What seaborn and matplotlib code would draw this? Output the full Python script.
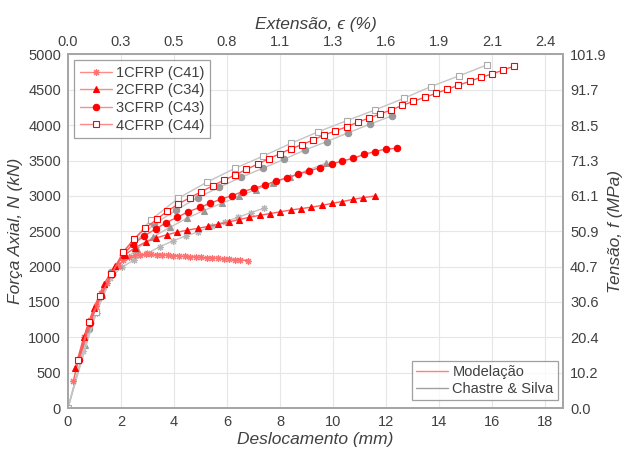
import matplotlib
matplotlib.use('Agg')
import matplotlib.pyplot as plt
import seaborn as sns
from matplotlib.lines import Line2D

# --- Modelação (red) ---
c41_x = [0.20, 0.41, 0.62, 0.83, 1.04, 1.25, 1.46, 1.67, 1.88, 2.09, 2.30, 2.51, 2.72, 2.93,
         3.14, 3.35, 3.56, 3.77, 3.98, 4.19, 4.40, 4.61, 4.82, 5.03, 5.24, 5.45, 5.66, 5.87,
         6.08, 6.29, 6.50, 6.80]
c41_y = [380, 700, 1000, 1240, 1440, 1620, 1770, 1900, 2010, 2090, 2135, 2158, 2168, 2172,
         2172, 2170, 2165, 2160, 2155, 2150, 2145, 2140, 2135, 2130, 2126, 2122, 2117, 2112,
         2106, 2100, 2095, 2085]

c34_x = [0.27, 0.59, 0.98, 1.37, 1.76, 2.15, 2.54, 2.94, 3.33, 3.72, 4.11, 4.50, 4.89, 5.28,
         5.67, 6.06, 6.45, 6.84, 7.23, 7.62, 8.01, 8.40, 8.79, 9.18, 9.57, 9.96, 10.35, 10.74,
         11.13, 11.58]
c34_y = [560, 1000, 1420, 1760, 2010, 2170, 2270, 2350, 2405, 2450, 2485, 2515, 2541, 2568,
         2598, 2630, 2665, 2697, 2725, 2750, 2775, 2800, 2820, 2840, 2865, 2895, 2920, 2950,
         2975, 2999]

c43_x = [0.41, 0.83, 1.24, 1.65, 2.06, 2.47, 2.88, 3.31, 3.70, 4.12, 4.54, 4.98, 5.36, 5.76,
         6.18, 6.59, 7.02, 7.43, 7.85, 8.28, 8.67, 9.09, 9.51, 9.95, 10.35, 10.77, 11.18, 11.58,
         11.99, 12.40]
c43_y = [680, 1200, 1580, 1900, 2170, 2320, 2437, 2532, 2621, 2697, 2777, 2838, 2895, 2952,
         3003, 3060, 3107, 3154, 3211, 3258, 3305, 3352, 3399, 3451, 3494, 3532, 3588, 3627,
         3663, 3673]

c44_x = [0.39, 0.80, 1.22, 1.64, 2.07, 2.49, 2.91, 3.35, 3.75, 4.16, 4.60, 5.03, 5.46, 5.88,
         6.30, 6.73, 7.16, 7.57, 8.00, 8.42, 8.84, 9.25, 9.66, 10.09, 10.52, 10.93, 11.36,
         11.77, 12.19, 12.62, 13.03, 13.46, 13.89, 14.30, 14.73, 15.16, 15.58, 16.00, 16.43,
         16.84]
c44_y = [679, 1221, 1580, 1890, 2200, 2386, 2541, 2669, 2785, 2885, 2975, 3060, 3143, 3222,
         3295, 3375, 3450, 3525, 3597, 3668, 3727, 3791, 3861, 3918, 3979, 4041, 4102, 4158,
         4215, 4281, 4338, 4394, 4451, 4508, 4564, 4621, 4677, 4724, 4781, 4837]

# --- Chastre & Silva (gray) ---
e41_x = [0, 0.58, 1.08, 1.58, 2.03, 2.49, 2.99, 3.47, 3.97, 4.45, 4.92, 5.42, 5.92, 6.43,
         6.89, 7.40]
e41_y = [0, 800, 1350, 1834, 1990, 2093, 2188, 2282, 2366, 2433, 2494, 2574, 2635, 2697,
         2763, 2825]

e34_x = [0, 0.64, 1.27, 1.94, 2.59, 3.22, 3.85, 4.48, 5.13, 5.80, 6.45, 7.09, 7.74, 8.39,
         9.07, 9.72]
e34_y = [0, 891, 1598, 2023, 2245, 2423, 2555, 2683, 2793, 2895, 2994, 3088, 3183, 3272,
         3366, 3461]

e43_x = [0, 0.81, 1.61, 2.44, 3.25, 4.08, 4.89, 5.71, 6.52, 7.35, 8.15, 8.94, 9.77, 10.58,
         11.40, 12.22]
e43_y = [0, 1120, 1928, 2320, 2598, 2800, 2975, 3121, 3262, 3390, 3517, 3649, 3769, 3894,
         4015, 4132]

e44_x = [0, 1.06, 2.09, 3.12, 4.16, 5.23, 6.30, 7.37, 8.42, 9.45, 10.52, 11.58, 12.68,
         13.70, 14.77, 15.80]
e44_y = [0, 1362, 2211, 2659, 2966, 3192, 3390, 3564, 3744, 3908, 4064, 4215, 4381, 4547,
         4700, 4851]

x_ticks = [0, 2, 4, 6, 8, 10, 12, 14, 16, 18]
strain_labels = ['0.0', '0.3', '0.5', '0.8', '1.1', '1.3', '1.6', '1.9', '2.1', '2.4']
y_ticks = [0, 500, 1000, 1500, 2000, 2500, 3000, 3500, 4000, 4500, 5000]
stress_labels = ['0.0', '10.2', '20.4', '30.6', '40.7', '50.9', '61.1', '71.3', '81.5',
                 '91.7', '101.9']

sns.set_style('white')
plt.rcParams['font.family'] = ['Liberation Sans', 'DejaVu Sans']
txt = '#404040'
edge = '#a6a6a6'

fig = plt.figure(figsize=(6.26, 4.5), dpi=100)
ax = fig.add_axes([0.1086, 0.0933, 0.7908, 0.7856])

red = '#ff0000'
red_line = '#ff5a5a'
gray = '#999999'
gray_line = '#c4c4c4'
star = (8, 2, 0)

exp = [(e41_x, e41_y, star, '#b5b5b5', '#b5b5b5', 5),
       (e34_x, e34_y, '^', gray, gray, 4.6),
       (e43_x, e43_y, 'o', gray, gray, 4.6),
       (e44_x, e44_y, 's', 'white', '#aaaaaa', 4.2)]
for xs, ys, mk, fc, ec, ms in exp:
    sns.lineplot(x=xs, y=ys, ax=ax, color=gray_line, linewidth=1, marker=mk,
                 markersize=ms, markerfacecolor=fc, markeredgecolor=ec,
                 markeredgewidth=0.8, zorder=3)

mod = [(c41_x, c41_y, star, '#ff7070', '#ff7070', 5, '1CFRP (C41)'),
       (c34_x, c34_y, '^', red, red, 4.6, '2CFRP (C34)'),
       (c43_x, c43_y, 'o', red, red, 4.6, '3CFRP (C43)'),
       (c44_x, c44_y, 's', 'white', red, 3.8, '4CFRP (C44)')]
handles = []
for xs, ys, mk, fc, ec, ms, lab in mod:
    sns.lineplot(x=xs, y=ys, ax=ax, color=red_line, linewidth=1, marker=mk,
                 markersize=ms, markerfacecolor=fc, markeredgecolor=ec,
                 markeredgewidth=0.8, zorder=4)
    handles.append(Line2D([], [], color='#ff8a8a', linewidth=1, marker=mk, markersize=ms,
                          markerfacecolor=fc, markeredgecolor=ec, markeredgewidth=0.8,
                          label=lab))

ax.set_xlim(0, 18.68)
ax.set_ylim(0, 5000)
ax.set_xticks(x_ticks)
ax.set_yticks(y_ticks)
ax.grid(True, color='#e6e6e6', linewidth=0.8)
ax.set_axisbelow(True)
ax.tick_params(length=0, labelsize=10.5, labelcolor=txt, pad=5)
ax.set_xlabel('Deslocamento (mm)', fontsize=12.5, style='italic', color=txt, labelpad=2)
ax.set_ylabel('Força Axial, N (kN)', fontsize=12.5, style='italic', color=txt, labelpad=4)

ax_top = ax.twiny()
ax_top.set_xlim(ax.get_xlim())
ax_top.set_xticks(x_ticks)
ax_top.set_xticklabels(strain_labels)
ax_top.tick_params(length=0, labelsize=10.5, labelcolor=txt, pad=4)
ax_top.set_xlabel('Extensão, ϵ (%)', fontsize=12.5, style='italic', color=txt, labelpad=4)

ax_r = ax.twinx()
ax_r.set_ylim(ax.get_ylim())
ax_r.set_yticks(y_ticks)
ax_r.set_yticklabels(stress_labels)
ax_r.tick_params(length=0, labelsize=10.5, labelcolor=txt, pad=5)
ax_r.set_ylabel('Tensão, f (MPa)', fontsize=12.5, style='italic', color=txt, labelpad=1)

for a in (ax, ax_top, ax_r):
    for s in a.spines.values():
        s.set_color(edge)
        s.set_linewidth(1.2)

leg1 = ax_r.legend(handles=handles, loc='upper left', bbox_to_anchor=(0.012, 0.985),
                   fontsize=10.5, frameon=True, fancybox=False, edgecolor='#888888',
                   handlelength=2.2, handletextpad=0.3, borderpad=0.4, labelspacing=0.25,
                   labelcolor=txt, borderaxespad=0)
leg1.get_frame().set_linewidth(0.9)
ax_r.add_artist(leg1)

h2 = [Line2D([], [], color='#ff8080', linewidth=1, label='Modelação'),
      Line2D([], [], color='#a0a0a0', linewidth=1, label='Chastre & Silva')]
leg2 = ax_r.legend(handles=h2, loc='lower right', bbox_to_anchor=(0.99, 0.022),
                   fontsize=10.5, frameon=True, fancybox=False, edgecolor='#888888',
                   handlelength=2.2, handletextpad=0.3, borderpad=0.3, labelspacing=0.2,
                   labelcolor=txt, borderaxespad=0)
leg2.get_frame().set_linewidth(0.9)

fig.savefig('out.png', dpi=100)
